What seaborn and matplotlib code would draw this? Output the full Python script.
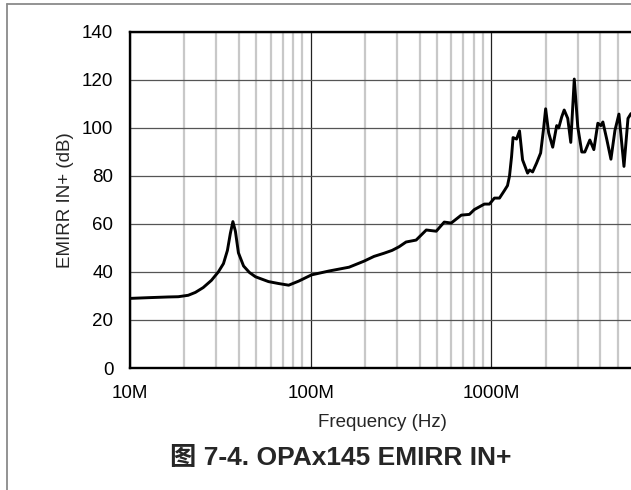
import numpy as np
import pandas as pd
import matplotlib
matplotlib.use("Agg")
import matplotlib.pyplot as plt
import seaborn as sns
from matplotlib.lines import Line2D
from matplotlib.ticker import LogLocator, FixedLocator, NullFormatter

# EMIRR IN+ curve (frequency in MHz, rejection in dB)
freq_mhz = [
    10, 12.6, 16.3, 18.5, 21, 23, 25.4, 28.2, 30.8, 32.9, 34.6, 35.9, 37.1,
    38.3, 39.8, 42.5, 45.8, 49.5, 58.4, 66.4, 75.5, 85.8, 101, 126, 163, 197,
    224, 254, 282, 308, 337, 383, 436, 495, 548, 599, 681, 755, 804, 914, 975,
    1039, 1108, 1181, 1227, 1259, 1292, 1317, 1377, 1430, 1487, 1585, 1626,
    1690, 1778, 1872, 1945, 1995, 2073, 2183, 2297, 2356, 2448, 2527, 2644,
    2748, 2873, 3005, 3162, 3286, 3504, 3687, 3880, 4033, 4137, 4355, 4584,
    4824, 5076, 5412, 5696, 5918, 6150,
]
emirr_db = [
    29.0, 29.3, 29.6, 29.7, 30.3, 31.5, 33.5, 36.5, 40.0, 43.5, 49.0, 56.0, 61.0,
    57.0, 48.0, 42.5, 39.8, 38.0, 36.0, 35.2, 34.5, 36.2, 38.8, 40.4, 42.0, 44.5,
    46.5, 47.8, 49.0, 50.5, 52.5, 53.3, 57.5, 57.0, 60.8, 60.4, 63.7, 64.0, 66.0, 68.3, 68.3,
    70.8, 70.8, 74.0, 76.0, 80.0, 88.0, 96.0, 95.4, 98.8, 86.7, 81.2, 82.5,
    81.7, 85.4, 89.6, 100.0, 108.0, 98.0, 92.0, 101.0, 100.0, 104.6, 107.5, 104.0,
    94.0, 120.4, 100.4, 90.0, 90.0, 95.0, 91.0, 102.0, 101.0, 102.5, 95.0, 87.0,
    99.0, 105.8, 84.0, 104.0, 106.0, 104.0,
]
x_ticks = [1e7, 1e8, 1e9]
x_tick_labels = ["10M", "100M", "1000M"]
y_ticks = [0, 20, 40, 60, 80, 100, 120, 140]

df = pd.DataFrame({"freq": np.array(freq_mhz) * 1e6, "emirr": emirr_db})

sns.set_theme(style="white")
plt.rcParams["font.family"] = ["Liberation Sans", "Noto Sans CJK SC", "DejaVu Sans"]

fig = plt.figure(figsize=(6.31, 4.90), dpi=100)
ax = fig.add_axes([130 / 631, 1 - 368 / 490, 504 / 631, 336 / 490])

sns.lineplot(data=df, x="freq", y="emirr", ax=ax, color="black", linewidth=2.1,
             solid_joinstyle="round", solid_capstyle="round")

ax.set_xscale("log")
ax.set_xlim(1e7, 6.15e9)
ax.set_ylim(0, 140)
ax.xaxis.set_major_locator(FixedLocator(x_ticks))
ax.set_xticklabels(x_tick_labels)
ax.xaxis.set_minor_locator(LogLocator(base=10, subs=np.arange(2, 10), numticks=20))
ax.xaxis.set_minor_formatter(NullFormatter())
ax.set_yticks(y_ticks)

ax.set_axisbelow(True)
ax.grid(which="minor", axis="x", color="#c8c8c8", linewidth=1.6)
ax.grid(which="major", axis="x", color="#222222", linewidth=0.9)
ax.grid(which="major", axis="y", color="#555555", linewidth=0.9)

for side in ["left", "bottom", "top"]:
    ax.spines[side].set_color("black")
    ax.spines[side].set_linewidth(1.7)
ax.spines["right"].set_visible(False)

ax.tick_params(axis="both", which="both", length=0, labelsize=13.5, colors="black")
ax.tick_params(axis="y", pad=12)
ax.tick_params(axis="x", pad=12)

ax.set_xlabel("Frequency (Hz)", fontsize=13.5, labelpad=9)
ax.set_ylabel("EMIRR IN+ (dB)", fontsize=13.5, labelpad=6)

fig.text(341 / 631, 1 - 458 / 490, "图 7-4. OPAx145 EMIRR IN+",
         ha="center", va="center", fontsize=19, fontweight="bold")

# page frame lines (top and left)
fig.add_artist(Line2D([7 / 631, 1], [1 - 4 / 490, 1 - 4 / 490], color="#8a8a8a", linewidth=1.3))
fig.add_artist(Line2D([7 / 631, 7 / 631], [0, 1 - 4 / 490], color="#8a8a8a", linewidth=1.3))

fig.savefig("out.png", dpi=100)
